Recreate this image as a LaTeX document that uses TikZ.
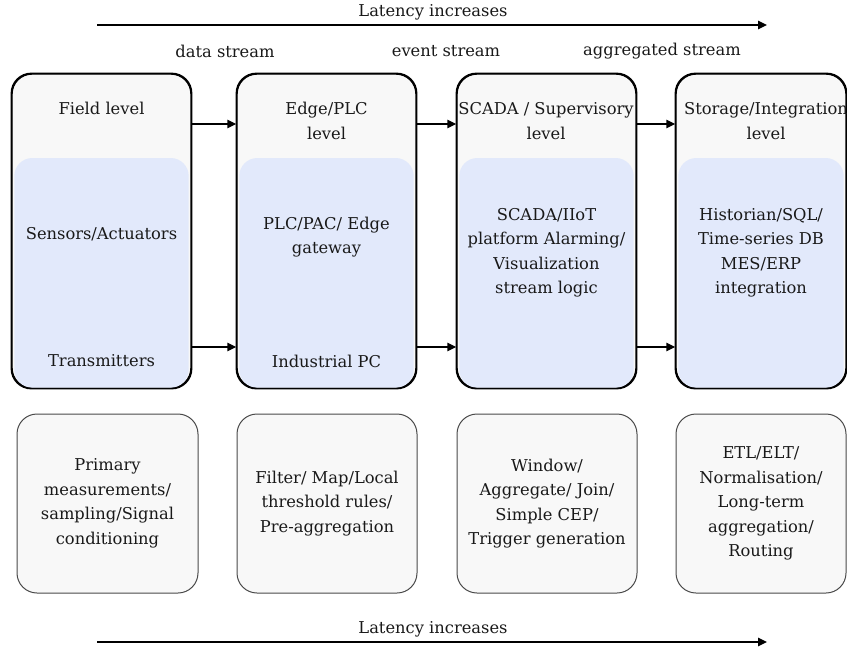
\documentclass[tikz,border=0pt]{standalone}
\usepackage{fontspec}
\setmainfont{DejaVu Serif}
\usetikzlibrary{arrows.meta}
\definecolor{boxfill}{HTML}{F8F8F8}
\definecolor{layerblue}{HTML}{E2E9FB}
\definecolor{softline}{HTML}{4A4A4A}
\tikzset{
  txt/.style={font=\fontsize{16.3}{24.5}\selectfont, align=center, text=black!90, inner sep=0pt},
  bigbox/.style={draw=black, line width=1.4pt, fill=boxfill, rounded corners=20pt,
    minimum width=179pt, minimum height=314pt, inner sep=0pt},
  opbox/.style={draw=softline, line width=1pt, fill=boxfill, rounded corners=20pt,
    minimum width=180pt, minimum height=179pt, inner sep=0pt},
  flow/.style={line width=1.4pt, -{Triangle[length=9pt,width=8.5pt]}},
}
\begin{document}
\begin{tikzpicture}[x=1pt, y=-1pt]
\useasboundingbox[fill=white] (0,0) rectangle (847,651);

% latency axis, top
\coordinate (latTopL) at (97,25);
\coordinate (latTopR) at (767,25);
\draw[flow] (latTopL) -- (latTopR);
\node[txt] (latTop) at (433,12) {Latency increases};

% stream labels
\node[txt] (sData) at (225,51) {data stream};
\node[txt] (sEvent) at (446,51) {event stream};
\node[txt] (sAgg) at (662,51) {aggregated stream};

% level columns
\node[bigbox] (b1) at (101.5,231) {};
\node[bigbox] (b2) at (326.5,231) {};
\node[bigbox] (b3) at (546.5,231) {};
\node[bigbox, minimum width=170pt] (b4) at (761,231) {};

% blue technology area inside each column
\foreach \c in {b1,b2,b3,b4}{
  \fill[layerblue, rounded corners=18pt]
    ([xshift=3pt]\c.west |- 0,158) rectangle ([xshift=-3pt,yshift=1pt]\c.south east);
  \draw[black, line width=1.4pt, rounded corners=20pt] (\c.south west) rectangle (\c.north east);
}

% column texts
\node[txt] (t1) at (101.5,108) {Field level};
\node[txt] (m1) at (101.5,234) {Sensors/Actuators};
\node[txt] (d1) at (101.5,361) {Transmitters};

\node[txt] (t2) at (326.5,121) {Edge/PLC\\level};
\node[txt] (m2) at (326.5,237) {PLC/PAC/ Edge\\gateway};
\node[txt] (d2) at (326.5,361) {Industrial PC};

\node[txt] (t3) at (546,121) {SCADA / Supervisory\\level};
\node[txt] (m3) at (546.5,253) {SCADA/IIoT\\platform Alarming/\\Visualization\\stream logic};

\node[txt] (t4) at (766,121) {Storage/Integration\\level};
\node[txt] (m4) at (761,253) {Historian/SQL/\\Time-series DB\\MES/ERP\\integration};

% connectors between columns
\foreach \a/\b in {b1/b2,b2/b3,b3/b4}{
  \draw[flow] (\a.east |- 0,124) -- (\b.west |- 0,124);
  \draw[flow] (\a.east |- 0,347) -- (\b.west |- 0,347);
}

% processing boxes
\node[opbox, minimum width=181pt] (p1) at (107.5,503.5) {};
\node[opbox] (p2) at (327,503.5) {};
\node[opbox] (p3) at (547,503.5) {};
\node[opbox, minimum width=170pt] (p4) at (761,503.5) {};

\node[txt] at (p1) {Primary\\measurements/\\sampling/Signal\\conditioning};
\node[txt] at (p2) {Filter/ Map/Local\\threshold rules/\\Pre-aggregation};
\node[txt] at (p3) {Window/\\Aggregate/ Join/\\Simple CEP/\\Trigger generation};
\node[txt] at (p4) {ETL/ELT/\\Normalisation/\\Long-term\\aggregation/\\Routing};

% latency axis, bottom
\coordinate (latBotL) at (97,642);
\coordinate (latBotR) at (767,642);
\draw[flow] (latBotL) -- (latBotR);
\node[txt] (latBot) at (433,629) {Latency increases};
\end{tikzpicture}
\end{document}
